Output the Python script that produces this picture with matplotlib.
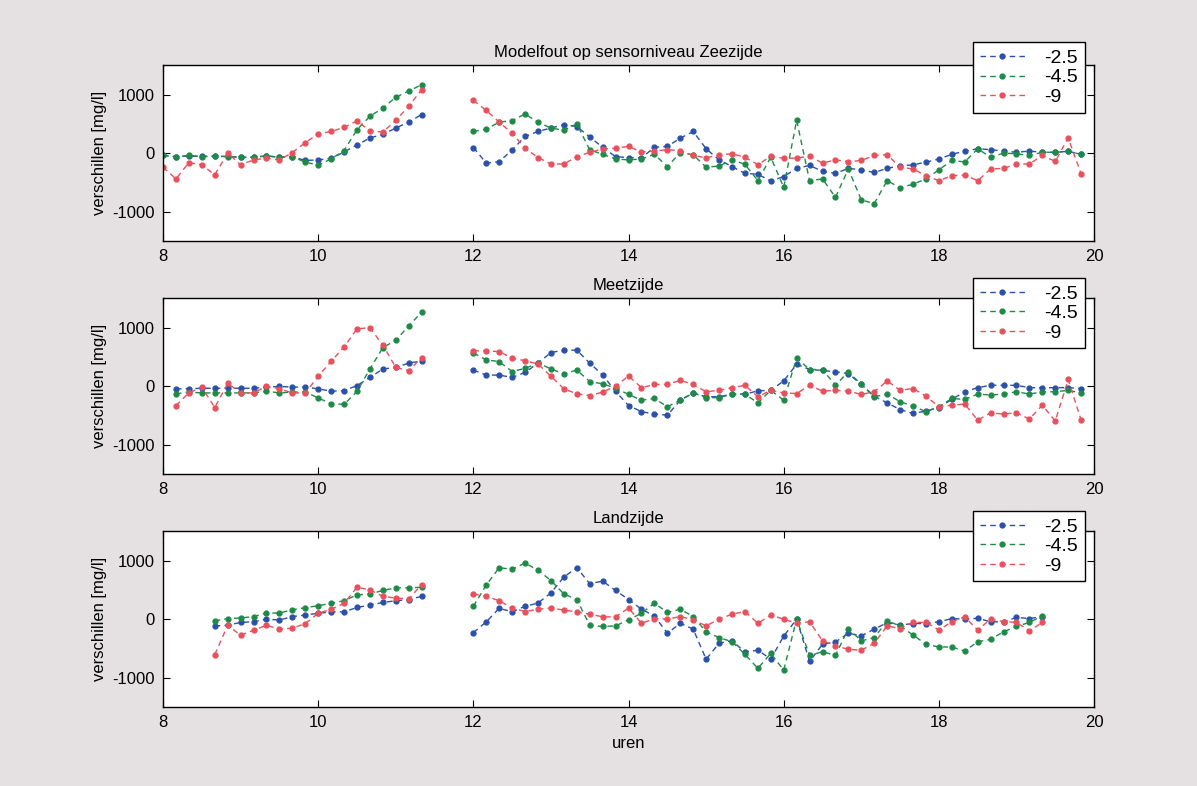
import numpy as np
import matplotlib
matplotlib.use("Agg")
from matplotlib import pyplot as plt

plt.rcParams['font.family'] = ['Liberation Sans', 'DejaVu Sans']
plt.rcParams['axes.unicode_minus'] = False

# sample times, 10 minute steps, one gap around 11.5-12 h
def times(start, stop):
    return np.round(np.arange(start, stop + 1e-6, 1 / 6), 4)

labels = ['-2.5', '-4.5', '-9']
colors = ['#2a50a8', '#1f8a48', '#e8505c']
titles = ['Modelfout op sensorniveau Zeezijde', 'Meetzijde', 'Landzijde']

# --- Zeezijde ---
zee_t1 = times(8.0, 11.3334)
zee_t2 = times(12.0, 19.8334)
zee_blue1 = [-40, -60, -50, -55, -55, -55, -70, -70, -45, -70, -60, -125, -115, -90, 20, 140, 260, 320, 430, 530, 660]
zee_green1 = [-40, -60, -40, -60, -50, -60, -70, -70, -50, -70, -60, -155, -200, -100, 45, 400, 630, 770, 955, 1060, 1170]
zee_red1 = [-240, -440, -160, -200, -370, 0, -200, -115, -85, -115, 10, 180, 330, 370, 440, 550, 380, 360, 560, 800, 1085]
zee_blue2 = [95, -170, -145, 55, 285, 370, 430, 485, 455, 275, 100, -60, -75,
             -80, 100, 115, 255, 370, 75, -115, -230, -345, -360, -475, -400, -260, -210, -310, -345, -260, -285,
             -330, -260, -215, -200, -155, -100, -20, 35, 75, 60, 35, 15, 35, 15, 15, 30, -15]
zee_green2 = [370, 410, 530, 555, 670, 525, 430, 390, 500, 55, -20, -100, -115,
              -100, -20, -230, 10, -30, -240, -220, -115, -190, -470, -70, -585, 560, -470, -440, -755, -270, -800,
              -860, -470, -590, -530, -440, -285, -125, -150, 75, -70, 0, -10, -40, 15, 15, 30, -20]
zee_red2 = [900, 730, 530, 340, 85, -75, -185, -185, -60, 15, 70, 85, 115,
            20, 35, 60, 45, -40, -80, -30, -10, -70, -195, -55, -85, -85, -50, -170, -115, -145, -125,
            -40, -25, -240, -270, -385, -470, -385, -375, -470, -270, -260, -185, -185, -40, -140, 260, -355]

# --- Meetzijde ---
meet_t1 = times(8.1667, 11.3334)
meet_t2 = times(12.0, 19.8334)
meet_blue1 = [-45, -45, -35, -35, -35, -35, -35, -15, -5, -15, -15, -45, -85, -75, 10, 150, 295, 320, 395, 430]
meet_green1 = [-130, -100, -115, -115, -115, -115, -115, -85, -115, -100, -100, -200, -300, -310, -90, 295, 660, 785, 1030, 1265]
meet_red1 = [-330, -115, -15, -365, 50, -115, -115, 0, -45, -115, -115, 170, 425, 670, 980, 1000, 700, 320, 265, 490]
meet_blue2 = [275, 190, 190, 150, 235, 395, 575, 615, 615, 395, 190, -90, -330,
              -435, -475, -495, -240, -115, -180, -180, -135, -135, -80, -70, 90, 375, 285, 270, 245, 215, 30,
              -170, -285, -400, -465, -425, -365, -225, -95, -25, 15, 15, 15, -25, -25, -25, -25, -40]
meet_green2 = [565, 450, 420, 250, 305, 395, 295, 210, 275, 80, 40, -35, -140,
               -240, -210, -350, -240, -115, -195, -195, -135, -135, -285, -70, -240, 480, 285, 285, 15, 245, 30,
               -180, -135, -265, -340, -435, -350, -210, -225, -135, -150, -135, -95, -135, -95, -95, -70, -115]
meet_red2 = [605, 605, 590, 480, 435, 380, 170, -45, -130, -160, -100, 0, 175,
             -25, 30, 30, 100, 30, -95, -70, -25, 15, -180, -70, -115, -125, 15, -85, -70, -85, -140,
             -95, 90, -70, -40, -170, -350, -325, -305, -580, -455, -475, -455, -560, -325, -595, 115, -580]

# --- Landzijde ---
land_t1 = times(8.6667, 11.3334)
land_t2 = times(12.0, 19.3334)
land_blue1 = [-115, -105, -55, -45, 0, -15, 45, 70, 100, 125, 125, 200, 240, 285, 315, 335, 390]
land_green1 = [-30, 10, 20, 45, 105, 105, 160, 195, 230, 270, 315, 415, 430, 490, 535, 535, 545]
land_red1 = [-605, -105, -275, -190, -105, -170, -155, -75, 100, 170, 270, 545, 500, 390, 360, 345, 590]
land_blue2 = [-230, -45, 185, 125, 220, 275, 450, 720, 880, 605, 650, 490, 335,
              170, 55, -240, -70, -170, -685, -410, -370, -560, -530, -680, -290, 0, -720, -430, -390, -240,
              -285, -170, -60, -100, -75, -75, -45, 10, 0, 15, -45, -45, 30, 10, 45]
land_green2 = [220, 585, 880, 850, 960, 835, 660, 430, 335, -105, -125, -115, -10,
               100, 275, 115, 170, 45, -215, -315, -385, -600, -840, -585, -870, 0, -620, -555, -620, -160,
               -370, -315, -30, -115, -270, -430, -475, -475, -545, -385, -345, -215, -125, -55, 55]
land_red2 = [430, 390, 315, 190, 130, 170, 190, 155, 125, 85, 40, 40, 190,
             -70, 10, 0, 45, -10, -115, 0, 85, 130, -70, 70, 0, -70, -45, -370, -455, -515,
             -530, -410, -115, -160, -55, -55, -185, -45, 40, -185, 0, -40, -55, -200, -55]

panels = [
    (zee_t1, zee_t2, [zee_blue1, zee_green1, zee_red1], [zee_blue2, zee_green2, zee_red2]),
    (meet_t1, meet_t2, [meet_blue1, meet_green1, meet_red1], [meet_blue2, meet_green2, meet_red2]),
    (land_t1, land_t2, [land_blue1, land_green1, land_red1], [land_blue2, land_green2, land_red2]),
]

fig = plt.figure(figsize=(11.97, 7.86), dpi=100, facecolor='#e5e1e3')
bottoms = [0.6934, 0.3969, 0.1005]
legend_top = [1.13, 1.115, 1.115]

for i, (t1, t2, seg1, seg2) in enumerate(panels):
    ax = fig.add_axes([0.1362, bottoms[i], 0.7778, 0.2235])
    ax.set_facecolor('white')
    for k in range(3):
        x = np.concatenate([t1, [np.nan], t2])
        y = np.concatenate([seg1[k], [np.nan], seg2[k]])
        ax.plot(x, y, linestyle='--', marker='.', markersize=7, linewidth=1,
                color=colors[k], label=labels[k], dashes=(4, 3))
    ax.set_xlim(8, 20)
    ax.set_ylim(-1500, 1500)
    ax.set_xticks([8, 10, 12, 14, 16, 18, 20])
    ax.set_yticks([-1000, 0, 1000])
    ax.tick_params(direction='in', top=True, right=True, length=5, labelsize=12, pad=6)
    ax.set_ylabel('verschillen [mg/l]', fontsize=12)
    ax.set_title(titles[i], fontsize=12, pad=6)
    for s in ax.spines.values():
        s.set_linewidth(1)
    leg = ax.legend(loc='upper right', bbox_to_anchor=(0.99, legend_top[i]), fontsize=14,
                    fancybox=False, framealpha=1, edgecolor='black', handlelength=2.3,
                    borderpad=0.35, labelspacing=0.1, borderaxespad=0, handletextpad=1.0)
    leg.get_frame().set_linewidth(1)
    if i == 2:
        ax.set_xlabel('uren', fontsize=12)

fig.savefig('out.png', dpi=100, facecolor=fig.get_facecolor())
